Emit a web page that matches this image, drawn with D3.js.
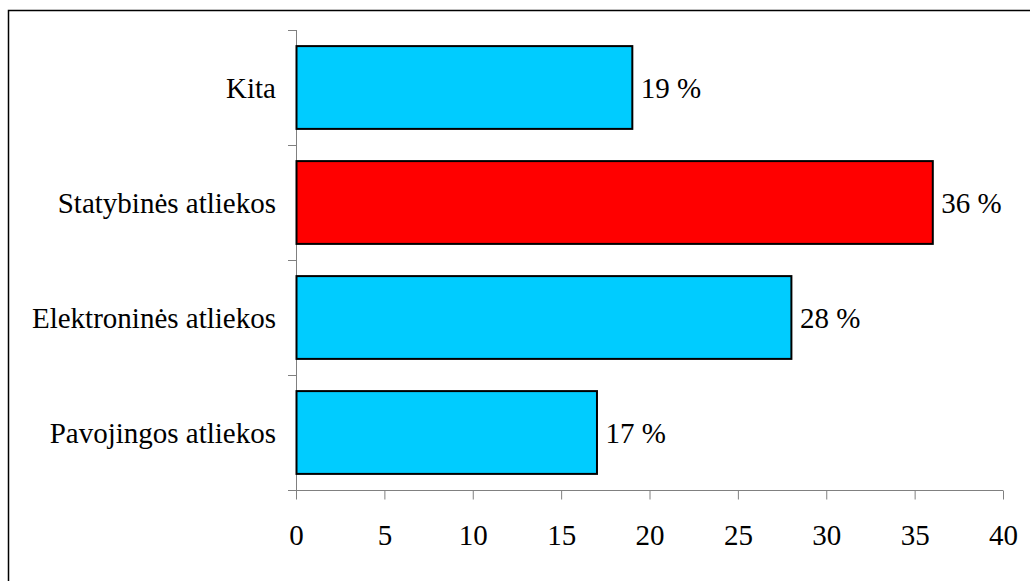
<!DOCTYPE html>
<html><head><meta charset="utf-8">
<script src="https://cdn.jsdelivr.net/npm/d3@7"></script>
<style>body{margin:0;background:#fff}svg{display:block}</style>
</head><body>
<svg id="c" width="1030" height="581"></svg>
<script>
const categories = ["Kita", "Statybinės atliekos", "Elektroninės atliekos", "Pavojingos atliekos"];
const values = [19, 36, 28, 17];
const colors = ["#00CCFF", "#FF0000", "#00CCFF", "#00CCFF"];
const xTicks = [0, 5, 10, 15, 20, 25, 30, 35, 40];

(function () {
const svg = d3.select("#c");
const font = "Liberation Serif, Times New Roman, serif";
const fs = 29;
svg.append("rect").attr("x", 8.5).attr("y", 10.5).attr("width", 1040).attr("height", 600)
  .attr("fill", "#fff").attr("stroke", "#000").attr("stroke-width", 1.5);

const pl = 296, pr = 1003, pt = 30, pb = 490;
const x = d3.scaleLinear().domain([0, 40]).range([pl, pr]);
const y = d3.scaleBand().domain(categories).range([pt, pb]).paddingInner(0.28).paddingOuter(0.14);

const g = svg.append("g");
const yAxis = g.append("g");
yAxis.append("line").attr("x1", pl + 0.5).attr("x2", pl + 0.5).attr("y1", pt).attr("y2", pb).attr("stroke", "#808080");
const step = (pb - pt) / categories.length;
d3.range(categories.length + 1).forEach(i => {
  const yy = Math.round(pt + i * step) + 0.5;
  yAxis.append("line").attr("x1", pl - 8).attr("x2", pl).attr("y1", yy).attr("y2", yy).attr("stroke", "#808080");
});
g.selectAll(".ylab").data(categories).join("text")
  .attr("x", 276).attr("y", d => y(d) + y.bandwidth() / 2)
  .attr("dy", "0.35em").attr("text-anchor", "end")
  .style("font-family", font).style("font-size", fs + "px").text(d => d);

const xAxis = g.append("g").attr("transform", `translate(0,${pb + 0.5})`)
  .call(d3.axisBottom(x).tickValues(xTicks).tickSize(9).tickSizeOuter(0).tickPadding(25));
xAxis.select(".domain").attr("stroke", "#808080").attr("d", `M${pl - 8},0H${pr}`);
xAxis.selectAll(".tick line").attr("stroke", "#808080");
xAxis.selectAll("text").style("font-family", font).style("font-size", fs + "px").attr("fill", "#000");

g.selectAll(".bar").data(categories).join("rect")
  .attr("x", x(0) + 0.5).attr("y", d => y(d))
  .attr("width", (d, i) => x(values[i]) - x(0))
  .attr("height", y.bandwidth())
  .attr("fill", (d, i) => colors[i]).attr("stroke", "#000").attr("stroke-width", 2);

g.selectAll(".val").data(categories).join("text")
  .attr("x", (d, i) => x(values[i]) + 9).attr("y", d => y(d) + y.bandwidth() / 2)
  .attr("dy", "0.35em").style("font-family", font).style("font-size", fs + "px")
  .text((d, i) => values[i] + " %");
})();
</script>
</body></html>
